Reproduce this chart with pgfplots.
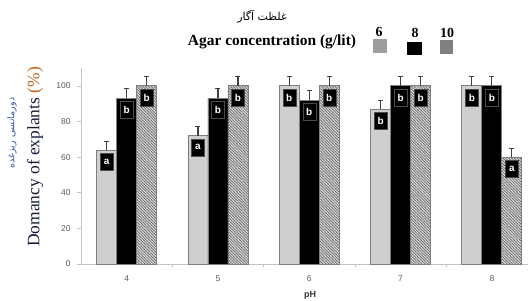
\documentclass[border=0pt]{standalone}
\usepackage{pgfplots}
\pgfplotsset{compat=1.18}
\usepackage{pgfplotstable}
\usetikzlibrary{patterns.meta}
\usepackage{fontspec}
\setmainfont{Liberation Serif}
\setsansfont{Liberation Sans}
\newfontfamily\arabicfont[Script=Arabic]{DejaVu Sans}
\TeXXeTstate=1
\definecolor{barlight}{HTML}{CFCFCF}
\definecolor{baredge}{HTML}{7F7F7F}
\definecolor{axgray}{HTML}{C4C4C4}
\definecolor{labnavy}{HTML}{151C3C}
\definecolor{laborange}{HTML}{C0651E}
\definecolor{labblue}{HTML}{2E5AA8}
\pgfplotstableread{
x y e l
4 64 5 a
5 72 5 a
6 100 5 b
7 87 5 b
8 100 5 b
}\sixtab
\pgfplotstableread{
x y e l
4 93 5.5 b
5 93 5.5 b
6 92 5.5 b
7 100 5 b
8 100 5 b
}\eighttab
\pgfplotstableread{
x y e l
4 100 5 b
5 100 5 b
6 100 5 b
7 100 5 b
8 60 5 a
}\tentab
\pgfplotsset{myerr/.style={
  error bars/y dir=plus, error bars/y explicit,
  error bars/error bar style={black!75, line width=1.1pt},
  error bars/error mark options={rotate=90, mark size=2.5bp, line width=1pt, black!75}}}
\begin{document}
\begin{tikzpicture}[x=1bp,y=1bp]
\useasboundingbox (0,0) rectangle (528,300);
\begin{axis}[
  at={(81bp,36bp)}, anchor=south west,
  scale only axis, width=447bp, height=196bp,
  xmin=3.5, xmax=8.396, ymin=0, ymax=110,
  ybar=0pt, bar width=20bp,
  axis x line=bottom, axis y line=left,
  axis line style={axgray, line width=0.6pt, -},
  xtick={4,5,6,7,8}, major x tick style={draw=none},
  minor xtick={4.5,5.5,6.5,7.5}, minor x tick style={axgray, line width=0.6pt},
  minor tick length=3bp,
  ytick={0,20,...,100}, y tick style={axgray, line width=0.6pt},
  major tick length=4bp, tick align=outside,
  ticklabel style={font=\sffamily\fontsize{8.5}{9}\selectfont, text=black!65},
  /pgf/number format/assume math mode=true,
  xticklabel style={yshift=-4bp},
  yticklabel style={xshift=-3bp},
  point meta=explicit symbolic,
  nodes near coords,
  nodes near coords style={anchor=north, yshift=-3bp, fill=black, text=white,
     font=\sffamily\bfseries\fontsize{10}{10}\selectfont, inner sep=0pt,
     minimum width=13bp, minimum height=17bp, draw=black!70, line width=0.3pt},
]
\addplot[fill=barlight, draw=baredge, line width=0.8pt, myerr]
  table[x=x, y=y, y error=e, meta=l]{\sixtab};
\addplot[fill=black, draw=baredge, line width=0.8pt, myerr]
  table[x=x, y=y, y error=e, meta=l]{\eighttab};
\addplot[fill=black!15, draw=baredge, line width=0.8pt, myerr,
  postaction={pattern={Lines[angle=-45, distance=2bp, line width=0.7bp]}, pattern color=black!60}]
  table[x=x, y=y, y error=e, meta=l]{\tentab};
\end{axis}
% x label
\node[font=\sffamily\bfseries\fontsize{9}{9}\selectfont, text=black!80] at (310,5) {pH};
% y labels
\node[rotate=90, font=\fontsize{17.5}{17.5}\selectfont, text=labnavy] at (35,143)
  {Domancy of explants \textcolor{laborange}{(\%)}};
\node[rotate=90, font=\fontsize{9.5}{9.5}\selectfont, text=labblue] at (12,167)
  {\arabicfont\beginR دورمانسی ریزغده\endR};
% legend
\node[font=\fontsize{11}{11}\selectfont] at (262,283) {\arabicfont\beginR غلظت آگار\endR};
\node[font=\bfseries\fontsize{15.5}{15.5}\selectfont] at (272,258) {Agar concentration (g/lit)};
\node[font=\bfseries\fontsize{14}{14}\selectfont] at (379,268) {6};
\node[font=\bfseries\fontsize{14}{14}\selectfont] at (415,267) {8};
\node[font=\bfseries\fontsize{14}{14}\selectfont] at (447,267) {10};
\fill[black!38] (373,247) rectangle (387,261);
\fill[black] (407,245) rectangle (422,258);
\fill[black!50] (440,246) rectangle (453,260);
\end{tikzpicture}
\end{document}
